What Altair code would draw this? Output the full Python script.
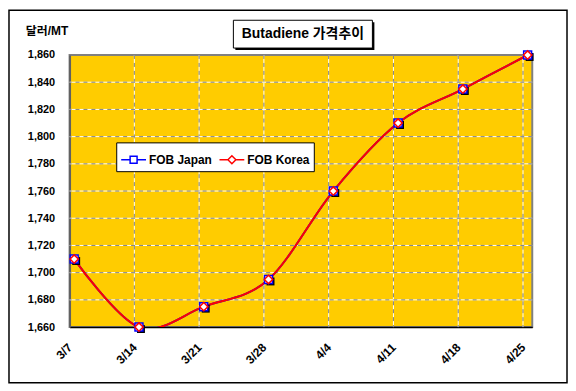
import altair as alt
import pandas as pd

# ---- data ----
dates = ["3/7", "3/14", "3/21", "3/28", "4/4", "4/11", "4/18", "4/25"]
fob_japan = [1710, 1660, 1675, 1695, 1760, 1810, 1835, 1860]
fob_korea = [1710, 1660, 1675, 1695, 1760, 1810, 1835, 1860]
series_names = ["FOB Japan", "FOB Korea"]
y_ticks = [1660, 1680, 1700, 1720, 1740, 1760, 1780, 1800, 1820, 1840, 1860]
title_text = "Butadiene 가격추이"
unit_text = "달러/MT"

month_offset = {3: 0, 4: 31}


def day_index(s):
    m, d = (int(v) for v in s.split("/"))
    return month_offset[m] + d - 7


day_idx = [day_index(s) for s in dates]

rows = []
for name, vals in zip(series_names, [fob_japan, fob_korea]):
    for dt, di, v in zip(dates, day_idx, vals):
        rows.append({"series": name, "date": dt, "day": di, "value": v})
df = pd.DataFrame(rows)

vgrid = pd.DataFrame({"day": day_idx[1:]})
hgrid = pd.DataFrame({"value": y_ticks[1:-1]})

FONT = "Liberation Sans, Arial, Noto Sans CJK KR"
W, H = 466, 274

label_expr = "[" + ",".join("'%s'" % s for s in dates) + "][round(datum.value/7)]"
y_label_expr = "format(datum.value, ',d')"

xscale = alt.Scale(domain=[0, 50], nice=False, zero=False)
yscale = alt.Scale(domain=[y_ticks[0], y_ticks[-1]], nice=False, zero=False)

x_axis = alt.Axis(values=day_idx, labelExpr=label_expr, title=None, grid=False,
                  ticks=False, labelAngle=315, labelAlign="right",
                  labelBaseline="middle", labelPadding=18, labelFontSize=12,
                  labelFontWeight="bold", labelFont=FONT, labelColor="black",
                  domainColor="black", domainWidth=1.5, labelOverlap=False)
y_axis = alt.Axis(values=y_ticks, labelExpr=y_label_expr, title=None, grid=False,
                  ticks=False, labelPadding=15, labelFontSize=11,
                  labelFontWeight="bold", labelFont=FONT, labelColor="black",
                  domainColor="#606060", domainWidth=2, labelOverlap=False)

jp_path = "M-1,0H-0.28M0.28,0H1M-0.28,-0.28H0.28V0.28H-0.28Z"
kr_path = "M-1,0H-0.32M0.32,0H1M-0.32,0L0,-0.32L0.32,0L0,0.32Z"

legend = alt.Legend(title=None, orient="none", legendX=47, legendY=88,
                    direction="horizontal", fillColor="white",
                    strokeColor="black", padding=4, symbolSize=625,
                    symbolStrokeWidth=1.5, symbolFillColor="white",
                    labelFont=FONT, labelFontSize=12, labelFontWeight="bold",
                    labelColor="black", labelOffset=2, columnPadding=4,
                    symbolOpacity=1, symbolType=jp_path, gridAlign="none")

color_scale = alt.Scale(domain=series_names, range=["#0000FF", "#FF0000"])
color = alt.Color("series:N", scale=color_scale, legend=legend)

one = alt.Data(values=[{"a": 1}])

# decorations: outer frame, title box, unit label
frame = alt.Chart(one).mark_rect(fill=None, stroke="black", strokeWidth=1.5).encode(
    x=alt.value(-61), x2=alt.value(501), y=alt.value(-45), y2=alt.value(330))
title_shadow = alt.Chart(one).mark_rect(fill="black").encode(
    x=alt.value(167), x2=alt.value(307), y=alt.value(-33), y2=alt.value(-5))
title_box = alt.Chart(one).mark_rect(fill="white", stroke="black", strokeWidth=1).encode(
    x=alt.value(165), x2=alt.value(305), y=alt.value(-35), y2=alt.value(-7))
title = alt.Chart(one).mark_text(text=title_text, font=FONT, fontSize=14,
                                 fontWeight="bold", align="center",
                                 baseline="middle", color="black").encode(
    x=alt.value(235), y=alt.value(-21))
unit = alt.Chart(one).mark_text(text=unit_text, font=FONT, fontSize=12,
                                fontWeight="bold", align="left",
                                baseline="middle", color="black").encode(
    x=alt.value(-44), y=alt.value(-24))

# gridlines: white solid + gray dashes
gx = alt.X("day:Q", scale=xscale, axis=x_axis)
gy = alt.Y("value:Q", scale=yscale, axis=y_axis)
vg_white = alt.Chart(vgrid).mark_rule(color="white", strokeWidth=1).encode(x=gx)
vg_gray = alt.Chart(vgrid).mark_rule(color="#808080", strokeWidth=1,
                                     strokeDash=[4, 4]).encode(x=gx)
hg_white = alt.Chart(hgrid).mark_rule(color="white", strokeWidth=1).encode(y=gy)
hg_gray = alt.Chart(hgrid).mark_rule(color="#808080", strokeWidth=1,
                                     strokeDash=[4, 4]).encode(y=gy)

base = alt.Chart(df).transform_calculate(xpos="datum.day + 0.5")
xenc = alt.X("xpos:Q", scale=xscale, axis=x_axis)
yenc = alt.Y("value:Q", scale=yscale, axis=y_axis)

lines = base.mark_line(interpolate="cardinal", strokeWidth=2, clip=True).encode(
    x=xenc, y=yenc, color=color, detail="series:N")

# legend carrier: tiny marks hidden under the real markers
legend_layer = base.mark_point(size=1, fill="white", strokeWidth=0.1,
                               opacity=1).encode(
    x=xenc, y=yenc, color=color,
    shape=alt.Shape("series:N", scale=alt.Scale(domain=series_names,
                                                range=[jp_path, kr_path]),
                    legend=legend))

shadow = base.transform_filter("datum.series == 'FOB Japan'").mark_point(
    shape="square", size=64, filled=True, color="black", opacity=1,
    xOffset=2, yOffset=2).encode(x=xenc, y=yenc)
squares = base.transform_filter("datum.series == 'FOB Japan'").mark_point(
    shape="square", size=64, fill="white", stroke="#0000FF", strokeWidth=1.5,
    opacity=1, fillOpacity=1).encode(x=xenc, y=yenc)
diamonds = base.transform_filter("datum.series == 'FOB Korea'").mark_point(
    shape="diamond", size=70, fill="white", stroke="#FF0000", strokeWidth=1.5,
    opacity=1, fillOpacity=1).encode(x=xenc, y=yenc)

chart = alt.layer(
    frame, title_shadow, title_box, title, unit,
    vg_white, vg_gray, hg_white, hg_gray,
    lines, legend_layer, shadow, squares, diamonds,
).properties(
    width=W, height=H,
    autosize=alt.AutoSizeParams(type="none"),
    padding={"left": 62, "top": 46, "right": 36, "bottom": 57},
    background="white",
).configure_view(
    fill="#FFCC00", stroke="#808080", strokeWidth=2,
)

chart.save("out.html", embed_options={"renderer": "svg", "actions": False})
